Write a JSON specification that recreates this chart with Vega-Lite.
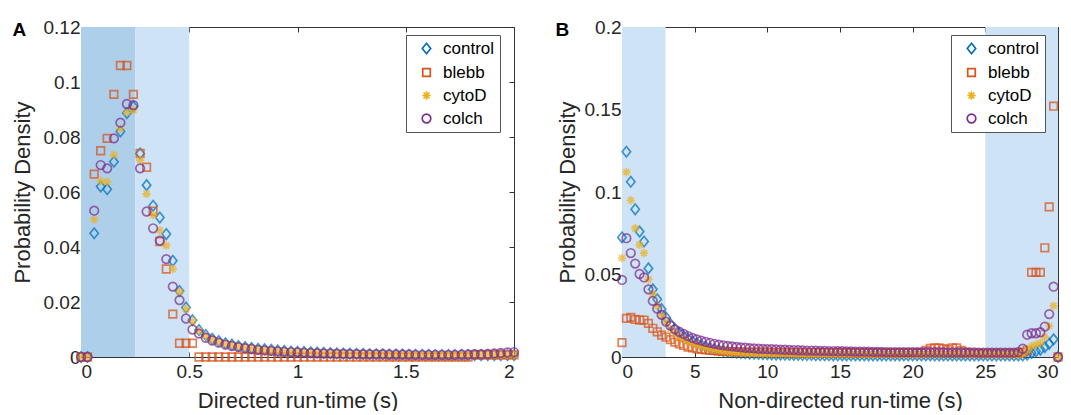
{
"$schema": "https://vega.github.io/schema/vega-lite/v6.json",
"background": "white",
"padding": {"left": 11, "top": 18, "right": 0, "bottom": 0},
"spacing": 33,
"datasets": {
"bandsA": [{"zone": "dark", "x0": 0, "x1": 0.25}, {"zone": "light", "x0": 0.25, "x1": 0.5}],
"bandsB": [{"zone": "light", "x0": 0, "x1": 3}, {"zone": "light", "x0": 25, "x1": 30}],
"A": [
{"s":"control","x":0,"y":0},{"s":"control","x":0.03,"y":0},{"s":"control","x":0.061,"y":0.045},{"s":"control","x":0.091,"y":0.062},{"s":"control","x":0.121,"y":0.061},{"s":"control","x":0.152,"y":0.071},{"s":"control","x":0.182,"y":0.082},{"s":"control","x":0.212,"y":0.0887},{"s":"control","x":0.242,"y":0.091},{"s":"control","x":0.273,"y":0.074},{"s":"control","x":0.303,"y":0.0625},{"s":"control","x":0.333,"y":0.055},{"s":"control","x":0.364,"y":0.0507},{"s":"control","x":0.394,"y":0.0447},{"s":"control","x":0.424,"y":0.035},{"s":"control","x":0.455,"y":0.024},{"s":"control","x":0.485,"y":0.018},{"s":"control","x":0.515,"y":0.0134},{"s":"control","x":0.545,"y":0.0098},{"s":"control","x":0.576,"y":0.008},{"s":"control","x":0.606,"y":0.0066},{"s":"control","x":0.636,"y":0.0058},{"s":"control","x":0.667,"y":0.005},{"s":"control","x":0.697,"y":0.0045},{"s":"control","x":0.727,"y":0.004},{"s":"control","x":0.758,"y":0.0036},{"s":"control","x":0.788,"y":0.0033},{"s":"control","x":0.818,"y":0.003},{"s":"control","x":0.848,"y":0.0028},{"s":"control","x":0.879,"y":0.0026},{"s":"control","x":0.909,"y":0.0024},{"s":"control","x":0.939,"y":0.0022},{"s":"control","x":0.97,"y":0.002},{"s":"control","x":1,"y":0.0019},{"s":"control","x":1.03,"y":0.0018},{"s":"control","x":1.061,"y":0.0017},{"s":"control","x":1.091,"y":0.0016},{"s":"control","x":1.121,"y":0.0015},{"s":"control","x":1.152,"y":0.0014},{"s":"control","x":1.182,"y":0.0013},{"s":"control","x":1.212,"y":0.0012},{"s":"control","x":1.242,"y":0.0012},{"s":"control","x":1.273,"y":0.0011},{"s":"control","x":1.303,"y":0.0011},{"s":"control","x":1.333,"y":0.001},{"s":"control","x":1.364,"y":0.001},{"s":"control","x":1.394,"y":0.001},{"s":"control","x":1.424,"y":0.0009},{"s":"control","x":1.455,"y":0.0009},{"s":"control","x":1.485,"y":0.0009},{"s":"control","x":1.515,"y":0.0008},{"s":"control","x":1.545,"y":0.0008},{"s":"control","x":1.576,"y":0.0008},{"s":"control","x":1.606,"y":0.0008},{"s":"control","x":1.636,"y":0.0007},{"s":"control","x":1.667,"y":0.0007},{"s":"control","x":1.697,"y":0.0007},{"s":"control","x":1.727,"y":0.0007},{"s":"control","x":1.758,"y":0.0007},{"s":"control","x":1.788,"y":0.0007},{"s":"control","x":1.818,"y":0.0007},{"s":"control","x":1.848,"y":0.0007},{"s":"control","x":1.879,"y":0.0007},{"s":"control","x":1.909,"y":0.0007},{"s":"control","x":1.939,"y":0.0007},{"s":"control","x":1.97,"y":0.0007},{"s":"control","x":2,"y":0.0007},
{"s":"blebb","x":0,"y":0},{"s":"blebb","x":0.03,"y":0},{"s":"blebb","x":0.061,"y":0.0665},{"s":"blebb","x":0.091,"y":0.075},{"s":"blebb","x":0.121,"y":0.0795},{"s":"blebb","x":0.152,"y":0.0955},{"s":"blebb","x":0.182,"y":0.106},{"s":"blebb","x":0.212,"y":0.106},{"s":"blebb","x":0.242,"y":0.0955},{"s":"blebb","x":0.273,"y":0.074},{"s":"blebb","x":0.303,"y":0.069},{"s":"blebb","x":0.333,"y":0.053},{"s":"blebb","x":0.364,"y":0.042},{"s":"blebb","x":0.394,"y":0.032},{"s":"blebb","x":0.424,"y":0.0156},{"s":"blebb","x":0.455,"y":0.005},{"s":"blebb","x":0.485,"y":0.005},{"s":"blebb","x":0.515,"y":0.005},{"s":"blebb","x":0.545,"y":0},{"s":"blebb","x":0.576,"y":0},{"s":"blebb","x":0.606,"y":0},{"s":"blebb","x":0.636,"y":0},{"s":"blebb","x":0.667,"y":0},{"s":"blebb","x":0.697,"y":0},{"s":"blebb","x":0.727,"y":0},{"s":"blebb","x":0.758,"y":0},{"s":"blebb","x":0.788,"y":0},{"s":"blebb","x":0.818,"y":0},{"s":"blebb","x":0.848,"y":0},{"s":"blebb","x":0.879,"y":0},{"s":"blebb","x":0.909,"y":0},{"s":"blebb","x":0.939,"y":0},{"s":"blebb","x":0.97,"y":0},{"s":"blebb","x":1,"y":0},{"s":"blebb","x":1.03,"y":0},{"s":"blebb","x":1.061,"y":0},{"s":"blebb","x":1.091,"y":0},{"s":"blebb","x":1.121,"y":0},{"s":"blebb","x":1.152,"y":0},{"s":"blebb","x":1.182,"y":0},{"s":"blebb","x":1.212,"y":0},{"s":"blebb","x":1.242,"y":0},{"s":"blebb","x":1.273,"y":0},{"s":"blebb","x":1.303,"y":0},{"s":"blebb","x":1.333,"y":0},{"s":"blebb","x":1.364,"y":0},{"s":"blebb","x":1.394,"y":0},{"s":"blebb","x":1.424,"y":0},{"s":"blebb","x":1.455,"y":0},{"s":"blebb","x":1.485,"y":0},{"s":"blebb","x":1.515,"y":0},{"s":"blebb","x":1.545,"y":0},{"s":"blebb","x":1.576,"y":0},{"s":"blebb","x":1.606,"y":0},{"s":"blebb","x":1.636,"y":0},{"s":"blebb","x":1.667,"y":0},{"s":"blebb","x":1.697,"y":0},{"s":"blebb","x":1.727,"y":0},{"s":"blebb","x":1.758,"y":0},{"s":"blebb","x":1.788,"y":0},{"s":"blebb","x":1.818,"y":0.0008},{"s":"blebb","x":1.848,"y":0.0008},{"s":"blebb","x":1.879,"y":0.0008},{"s":"blebb","x":1.909,"y":0.0008},{"s":"blebb","x":1.939,"y":0.0008},{"s":"blebb","x":1.97,"y":0.0008},{"s":"blebb","x":2,"y":0.0008},
{"s":"cytoD","x":0,"y":0},{"s":"cytoD","x":0.03,"y":0},{"s":"cytoD","x":0.061,"y":0.05},{"s":"cytoD","x":0.091,"y":0.064},{"s":"cytoD","x":0.121,"y":0.0637},{"s":"cytoD","x":0.152,"y":0.0735},{"s":"cytoD","x":0.182,"y":0.083},{"s":"cytoD","x":0.212,"y":0.089},{"s":"cytoD","x":0.242,"y":0.0898},{"s":"cytoD","x":0.273,"y":0.0716},{"s":"cytoD","x":0.303,"y":0.0593},{"s":"cytoD","x":0.333,"y":0.0516},{"s":"cytoD","x":0.364,"y":0.046},{"s":"cytoD","x":0.394,"y":0.0405},{"s":"cytoD","x":0.424,"y":0.032},{"s":"cytoD","x":0.455,"y":0.0237},{"s":"cytoD","x":0.485,"y":0.0175},{"s":"cytoD","x":0.515,"y":0.013},{"s":"cytoD","x":0.545,"y":0.0095},{"s":"cytoD","x":0.576,"y":0.0077},{"s":"cytoD","x":0.606,"y":0.0063},{"s":"cytoD","x":0.636,"y":0.0055},{"s":"cytoD","x":0.667,"y":0.0048},{"s":"cytoD","x":0.697,"y":0.0043},{"s":"cytoD","x":0.727,"y":0.0038},{"s":"cytoD","x":0.758,"y":0.0034},{"s":"cytoD","x":0.788,"y":0.0031},{"s":"cytoD","x":0.818,"y":0.0028},{"s":"cytoD","x":0.848,"y":0.0026},{"s":"cytoD","x":0.879,"y":0.0024},{"s":"cytoD","x":0.909,"y":0.0022},{"s":"cytoD","x":0.939,"y":0.002},{"s":"cytoD","x":0.97,"y":0.0019},{"s":"cytoD","x":1,"y":0.0018},{"s":"cytoD","x":1.03,"y":0.0017},{"s":"cytoD","x":1.061,"y":0.0016},{"s":"cytoD","x":1.091,"y":0.0015},{"s":"cytoD","x":1.121,"y":0.0014},{"s":"cytoD","x":1.152,"y":0.0013},{"s":"cytoD","x":1.182,"y":0.0012},{"s":"cytoD","x":1.212,"y":0.0012},{"s":"cytoD","x":1.242,"y":0.0011},{"s":"cytoD","x":1.273,"y":0.0011},{"s":"cytoD","x":1.303,"y":0.001},{"s":"cytoD","x":1.333,"y":0.001},{"s":"cytoD","x":1.364,"y":0.001},{"s":"cytoD","x":1.394,"y":0.0009},{"s":"cytoD","x":1.424,"y":0.0009},{"s":"cytoD","x":1.455,"y":0.0009},{"s":"cytoD","x":1.485,"y":0.0008},{"s":"cytoD","x":1.515,"y":0.0008},{"s":"cytoD","x":1.545,"y":0.0008},{"s":"cytoD","x":1.576,"y":0.0008},{"s":"cytoD","x":1.606,"y":0.0008},{"s":"cytoD","x":1.636,"y":0.0008},{"s":"cytoD","x":1.667,"y":0.0008},{"s":"cytoD","x":1.697,"y":0.0008},{"s":"cytoD","x":1.727,"y":0.0008},{"s":"cytoD","x":1.758,"y":0.0008},{"s":"cytoD","x":1.788,"y":0.0008},{"s":"cytoD","x":1.818,"y":0.0008},{"s":"cytoD","x":1.848,"y":0.0008},{"s":"cytoD","x":1.879,"y":0.0008},{"s":"cytoD","x":1.909,"y":0.0008},{"s":"cytoD","x":1.939,"y":0.0008},{"s":"cytoD","x":1.97,"y":0.0008},{"s":"cytoD","x":2,"y":0.0008},
{"s":"colch","x":0,"y":0},{"s":"colch","x":0.03,"y":0},{"s":"colch","x":0.061,"y":0.0532},{"s":"colch","x":0.091,"y":0.0698},{"s":"colch","x":0.121,"y":0.0686},{"s":"colch","x":0.152,"y":0.0795},{"s":"colch","x":0.182,"y":0.0852},{"s":"colch","x":0.212,"y":0.092},{"s":"colch","x":0.242,"y":0.0916},{"s":"colch","x":0.273,"y":0.0686},{"s":"colch","x":0.303,"y":0.0529},{"s":"colch","x":0.333,"y":0.0468},{"s":"colch","x":0.364,"y":0.0423},{"s":"colch","x":0.394,"y":0.0356},{"s":"colch","x":0.424,"y":0.0256},{"s":"colch","x":0.455,"y":0.0207},{"s":"colch","x":0.485,"y":0.014},{"s":"colch","x":0.515,"y":0.01},{"s":"colch","x":0.545,"y":0.0085},{"s":"colch","x":0.576,"y":0.007},{"s":"colch","x":0.606,"y":0.006},{"s":"colch","x":0.636,"y":0.0052},{"s":"colch","x":0.667,"y":0.0045},{"s":"colch","x":0.697,"y":0.004},{"s":"colch","x":0.727,"y":0.0036},{"s":"colch","x":0.758,"y":0.0032},{"s":"colch","x":0.788,"y":0.0029},{"s":"colch","x":0.818,"y":0.0026},{"s":"colch","x":0.848,"y":0.0024},{"s":"colch","x":0.879,"y":0.0022},{"s":"colch","x":0.909,"y":0.002},{"s":"colch","x":0.939,"y":0.0019},{"s":"colch","x":0.97,"y":0.0018},{"s":"colch","x":1,"y":0.0017},{"s":"colch","x":1.03,"y":0.0016},{"s":"colch","x":1.061,"y":0.0015},{"s":"colch","x":1.091,"y":0.0014},{"s":"colch","x":1.121,"y":0.0013},{"s":"colch","x":1.152,"y":0.0013},{"s":"colch","x":1.182,"y":0.0012},{"s":"colch","x":1.212,"y":0.0012},{"s":"colch","x":1.242,"y":0.0011},{"s":"colch","x":1.273,"y":0.0011},{"s":"colch","x":1.303,"y":0.001},{"s":"colch","x":1.333,"y":0.001},{"s":"colch","x":1.364,"y":0.001},{"s":"colch","x":1.394,"y":0.001},{"s":"colch","x":1.424,"y":0.0009},{"s":"colch","x":1.455,"y":0.0009},{"s":"colch","x":1.485,"y":0.0009},{"s":"colch","x":1.515,"y":0.0009},{"s":"colch","x":1.545,"y":0.0008},{"s":"colch","x":1.576,"y":0.0008},{"s":"colch","x":1.606,"y":0.0008},{"s":"colch","x":1.636,"y":0.0008},{"s":"colch","x":1.667,"y":0.0008},{"s":"colch","x":1.697,"y":0.0008},{"s":"colch","x":1.727,"y":0.0008},{"s":"colch","x":1.758,"y":0.0009},{"s":"colch","x":1.788,"y":0.0009},{"s":"colch","x":1.818,"y":0.001},{"s":"colch","x":1.848,"y":0.001},{"s":"colch","x":1.879,"y":0.0011},{"s":"colch","x":1.909,"y":0.0013},{"s":"colch","x":1.939,"y":0.0015},{"s":"colch","x":1.97,"y":0.0017},{"s":"colch","x":2,"y":0.0018}
],
"B": [
{"s":"control","x":0,"y":0.0725},{"s":"control","x":0.303,"y":0.1244},{"s":"control","x":0.606,"y":0.1062},{"s":"control","x":0.909,"y":0.0895},{"s":"control","x":1.212,"y":0.076},{"s":"control","x":1.515,"y":0.07},{"s":"control","x":1.818,"y":0.0537},{"s":"control","x":2.121,"y":0.041},{"s":"control","x":2.424,"y":0.035},{"s":"control","x":2.727,"y":0.029},{"s":"control","x":3.03,"y":0.024},{"s":"control","x":3.333,"y":0.02},{"s":"control","x":3.636,"y":0.017},{"s":"control","x":3.939,"y":0.0145},{"s":"control","x":4.242,"y":0.0125},{"s":"control","x":4.545,"y":0.011},{"s":"control","x":4.848,"y":0.0095},{"s":"control","x":5.152,"y":0.0083},{"s":"control","x":5.455,"y":0.0072},{"s":"control","x":5.758,"y":0.0063},{"s":"control","x":6.061,"y":0.0055},{"s":"control","x":6.364,"y":0.0048},{"s":"control","x":6.667,"y":0.0042},{"s":"control","x":6.97,"y":0.0037},{"s":"control","x":7.273,"y":0.0033},{"s":"control","x":7.576,"y":0.003},{"s":"control","x":7.879,"y":0.0027},{"s":"control","x":8.182,"y":0.0025},{"s":"control","x":8.485,"y":0.0023},{"s":"control","x":8.788,"y":0.0021},{"s":"control","x":9.091,"y":0.002},{"s":"control","x":9.394,"y":0.0019},{"s":"control","x":9.697,"y":0.0018},{"s":"control","x":10,"y":0.0017},{"s":"control","x":10.303,"y":0.0016},{"s":"control","x":10.606,"y":0.0015},{"s":"control","x":10.909,"y":0.0015},{"s":"control","x":11.212,"y":0.0014},{"s":"control","x":11.515,"y":0.0014},{"s":"control","x":11.818,"y":0.0013},{"s":"control","x":12.121,"y":0.0013},{"s":"control","x":12.424,"y":0.0012},{"s":"control","x":12.727,"y":0.0012},{"s":"control","x":13.03,"y":0.0012},{"s":"control","x":13.333,"y":0.0011},{"s":"control","x":13.636,"y":0.0011},{"s":"control","x":13.939,"y":0.0011},{"s":"control","x":14.242,"y":0.0011},{"s":"control","x":14.545,"y":0.001},{"s":"control","x":14.848,"y":0.001},{"s":"control","x":15.152,"y":0.001},{"s":"control","x":15.455,"y":0.001},{"s":"control","x":15.758,"y":0.001},{"s":"control","x":16.061,"y":0.001},{"s":"control","x":16.364,"y":0.001},{"s":"control","x":16.667,"y":0.001},{"s":"control","x":16.97,"y":0.001},{"s":"control","x":17.273,"y":0.001},{"s":"control","x":17.576,"y":0.001},{"s":"control","x":17.879,"y":0.001},{"s":"control","x":18.182,"y":0.001},{"s":"control","x":18.485,"y":0.001},{"s":"control","x":18.788,"y":0.001},{"s":"control","x":19.091,"y":0.001},{"s":"control","x":19.394,"y":0.001},{"s":"control","x":19.697,"y":0.001},{"s":"control","x":20,"y":0.001},{"s":"control","x":20.303,"y":0.001},{"s":"control","x":20.606,"y":0.001},{"s":"control","x":20.909,"y":0.001},{"s":"control","x":21.212,"y":0.001},{"s":"control","x":21.515,"y":0.0009},{"s":"control","x":21.818,"y":0.0009},{"s":"control","x":22.121,"y":0.0009},{"s":"control","x":22.424,"y":0.0009},{"s":"control","x":22.727,"y":0.0009},{"s":"control","x":23.03,"y":0.0009},{"s":"control","x":23.333,"y":0.0009},{"s":"control","x":23.636,"y":0.0009},{"s":"control","x":23.939,"y":0.0009},{"s":"control","x":24.242,"y":0.0009},{"s":"control","x":24.545,"y":0.0009},{"s":"control","x":24.848,"y":0.0009},{"s":"control","x":25.152,"y":0.0009},{"s":"control","x":25.455,"y":0.0009},{"s":"control","x":25.758,"y":0.0009},{"s":"control","x":26.061,"y":0.0009},{"s":"control","x":26.364,"y":0.0009},{"s":"control","x":26.667,"y":0.0009},{"s":"control","x":26.97,"y":0.0009},{"s":"control","x":27.273,"y":0.0009},{"s":"control","x":27.576,"y":0.001},{"s":"control","x":27.879,"y":0.0015},{"s":"control","x":28.182,"y":0.0025},{"s":"control","x":28.485,"y":0.0035},{"s":"control","x":28.788,"y":0.0045},{"s":"control","x":29.091,"y":0.006},{"s":"control","x":29.394,"y":0.008},{"s":"control","x":29.697,"y":0.0107},{"s":"control","x":30,"y":0},
{"s":"blebb","x":0,"y":0.0087},{"s":"blebb","x":0.303,"y":0.0234},{"s":"blebb","x":0.606,"y":0.024},{"s":"blebb","x":0.909,"y":0.0228},{"s":"blebb","x":1.212,"y":0.0224},{"s":"blebb","x":1.515,"y":0.0224},{"s":"blebb","x":1.818,"y":0.0204},{"s":"blebb","x":2.121,"y":0.0174},{"s":"blebb","x":2.424,"y":0.0153},{"s":"blebb","x":2.727,"y":0.0133},{"s":"blebb","x":3.03,"y":0.012},{"s":"blebb","x":3.333,"y":0.0105},{"s":"blebb","x":3.636,"y":0.009},{"s":"blebb","x":3.939,"y":0.0079},{"s":"blebb","x":4.242,"y":0.007},{"s":"blebb","x":4.545,"y":0.006},{"s":"blebb","x":4.848,"y":0.0055},{"s":"blebb","x":5.152,"y":0.005},{"s":"blebb","x":5.455,"y":0.0046},{"s":"blebb","x":5.758,"y":0.0043},{"s":"blebb","x":6.061,"y":0.004},{"s":"blebb","x":6.364,"y":0.0038},{"s":"blebb","x":6.667,"y":0.0036},{"s":"blebb","x":6.97,"y":0.0034},{"s":"blebb","x":7.273,"y":0.0033},{"s":"blebb","x":7.576,"y":0.0032},{"s":"blebb","x":7.879,"y":0.0031},{"s":"blebb","x":8.182,"y":0.0031},{"s":"blebb","x":8.485,"y":0.003},{"s":"blebb","x":8.788,"y":0.003},{"s":"blebb","x":9.091,"y":0.003},{"s":"blebb","x":9.394,"y":0.0029},{"s":"blebb","x":9.697,"y":0.0029},{"s":"blebb","x":10,"y":0.0029},{"s":"blebb","x":10.303,"y":0.0028},{"s":"blebb","x":10.606,"y":0.0028},{"s":"blebb","x":10.909,"y":0.0028},{"s":"blebb","x":11.212,"y":0.0028},{"s":"blebb","x":11.515,"y":0.0028},{"s":"blebb","x":11.818,"y":0.0027},{"s":"blebb","x":12.121,"y":0.0027},{"s":"blebb","x":12.424,"y":0.0027},{"s":"blebb","x":12.727,"y":0.0027},{"s":"blebb","x":13.03,"y":0.0027},{"s":"blebb","x":13.333,"y":0.0027},{"s":"blebb","x":13.636,"y":0.0026},{"s":"blebb","x":13.939,"y":0.0026},{"s":"blebb","x":14.242,"y":0.0026},{"s":"blebb","x":14.545,"y":0.0026},{"s":"blebb","x":14.848,"y":0.0026},{"s":"blebb","x":15.152,"y":0.0026},{"s":"blebb","x":15.455,"y":0.0026},{"s":"blebb","x":15.758,"y":0.0026},{"s":"blebb","x":16.061,"y":0.0026},{"s":"blebb","x":16.364,"y":0.0025},{"s":"blebb","x":16.667,"y":0.0025},{"s":"blebb","x":16.97,"y":0.0025},{"s":"blebb","x":17.273,"y":0.0025},{"s":"blebb","x":17.576,"y":0.0025},{"s":"blebb","x":17.879,"y":0.0025},{"s":"blebb","x":18.182,"y":0.0025},{"s":"blebb","x":18.485,"y":0.0025},{"s":"blebb","x":18.788,"y":0.0025},{"s":"blebb","x":19.091,"y":0.0025},{"s":"blebb","x":19.394,"y":0.0025},{"s":"blebb","x":19.697,"y":0.0025},{"s":"blebb","x":20,"y":0.0025},{"s":"blebb","x":20.303,"y":0.0025},{"s":"blebb","x":20.606,"y":0.0025},{"s":"blebb","x":20.909,"y":0.004},{"s":"blebb","x":21.212,"y":0.0052},{"s":"blebb","x":21.515,"y":0.0055},{"s":"blebb","x":21.818,"y":0.0055},{"s":"blebb","x":22.121,"y":0.005},{"s":"blebb","x":22.424,"y":0.0045},{"s":"blebb","x":22.727,"y":0.0055},{"s":"blebb","x":23.03,"y":0.0055},{"s":"blebb","x":23.333,"y":0.004},{"s":"blebb","x":23.636,"y":0.003},{"s":"blebb","x":23.939,"y":0.0022},{"s":"blebb","x":24.242,"y":0.0022},{"s":"blebb","x":24.545,"y":0.0022},{"s":"blebb","x":24.848,"y":0.0022},{"s":"blebb","x":25.152,"y":0.0022},{"s":"blebb","x":25.455,"y":0.0022},{"s":"blebb","x":25.758,"y":0.0022},{"s":"blebb","x":26.061,"y":0.0022},{"s":"blebb","x":26.364,"y":0.0022},{"s":"blebb","x":26.667,"y":0.0022},{"s":"blebb","x":26.97,"y":0.0022},{"s":"blebb","x":27.273,"y":0.0022},{"s":"blebb","x":27.576,"y":0.003},{"s":"blebb","x":27.879,"y":0.004},{"s":"blebb","x":28.182,"y":0.0513},{"s":"blebb","x":28.485,"y":0.0513},{"s":"blebb","x":28.788,"y":0.0513},{"s":"blebb","x":29.091,"y":0.0662},{"s":"blebb","x":29.394,"y":0.091},{"s":"blebb","x":29.697,"y":0.152},{"s":"blebb","x":30,"y":0},
{"s":"cytoD","x":0,"y":0.06},{"s":"cytoD","x":0.303,"y":0.112},{"s":"cytoD","x":0.606,"y":0.095},{"s":"cytoD","x":0.909,"y":0.078},{"s":"cytoD","x":1.212,"y":0.068},{"s":"cytoD","x":1.515,"y":0.063},{"s":"cytoD","x":1.818,"y":0.047},{"s":"cytoD","x":2.121,"y":0.038},{"s":"cytoD","x":2.424,"y":0.031},{"s":"cytoD","x":2.727,"y":0.025},{"s":"cytoD","x":3.03,"y":0.021},{"s":"cytoD","x":3.333,"y":0.017},{"s":"cytoD","x":3.636,"y":0.0145},{"s":"cytoD","x":3.939,"y":0.0125},{"s":"cytoD","x":4.242,"y":0.011},{"s":"cytoD","x":4.545,"y":0.0095},{"s":"cytoD","x":4.848,"y":0.0083},{"s":"cytoD","x":5.152,"y":0.0073},{"s":"cytoD","x":5.455,"y":0.0064},{"s":"cytoD","x":5.758,"y":0.0056},{"s":"cytoD","x":6.061,"y":0.005},{"s":"cytoD","x":6.364,"y":0.0045},{"s":"cytoD","x":6.667,"y":0.004},{"s":"cytoD","x":6.97,"y":0.0036},{"s":"cytoD","x":7.273,"y":0.0033},{"s":"cytoD","x":7.576,"y":0.003},{"s":"cytoD","x":7.879,"y":0.0028},{"s":"cytoD","x":8.182,"y":0.0026},{"s":"cytoD","x":8.485,"y":0.0024},{"s":"cytoD","x":8.788,"y":0.0023},{"s":"cytoD","x":9.091,"y":0.0022},{"s":"cytoD","x":9.394,"y":0.0021},{"s":"cytoD","x":9.697,"y":0.002},{"s":"cytoD","x":10,"y":0.002},{"s":"cytoD","x":10.303,"y":0.0019},{"s":"cytoD","x":10.606,"y":0.0019},{"s":"cytoD","x":10.909,"y":0.0018},{"s":"cytoD","x":11.212,"y":0.0018},{"s":"cytoD","x":11.515,"y":0.0017},{"s":"cytoD","x":11.818,"y":0.0017},{"s":"cytoD","x":12.121,"y":0.0017},{"s":"cytoD","x":12.424,"y":0.0016},{"s":"cytoD","x":12.727,"y":0.0016},{"s":"cytoD","x":13.03,"y":0.0016},{"s":"cytoD","x":13.333,"y":0.0016},{"s":"cytoD","x":13.636,"y":0.0016},{"s":"cytoD","x":13.939,"y":0.0016},{"s":"cytoD","x":14.242,"y":0.0016},{"s":"cytoD","x":14.545,"y":0.0016},{"s":"cytoD","x":14.848,"y":0.0016},{"s":"cytoD","x":15.152,"y":0.0016},{"s":"cytoD","x":15.455,"y":0.0015},{"s":"cytoD","x":15.758,"y":0.0015},{"s":"cytoD","x":16.061,"y":0.0015},{"s":"cytoD","x":16.364,"y":0.0015},{"s":"cytoD","x":16.667,"y":0.0015},{"s":"cytoD","x":16.97,"y":0.0015},{"s":"cytoD","x":17.273,"y":0.0015},{"s":"cytoD","x":17.576,"y":0.0015},{"s":"cytoD","x":17.879,"y":0.0015},{"s":"cytoD","x":18.182,"y":0.0015},{"s":"cytoD","x":18.485,"y":0.0014},{"s":"cytoD","x":18.788,"y":0.0014},{"s":"cytoD","x":19.091,"y":0.0014},{"s":"cytoD","x":19.394,"y":0.0014},{"s":"cytoD","x":19.697,"y":0.0014},{"s":"cytoD","x":20,"y":0.0014},{"s":"cytoD","x":20.303,"y":0.0014},{"s":"cytoD","x":20.606,"y":0.0014},{"s":"cytoD","x":20.909,"y":0.0014},{"s":"cytoD","x":21.212,"y":0.0014},{"s":"cytoD","x":21.515,"y":0.0014},{"s":"cytoD","x":21.818,"y":0.0014},{"s":"cytoD","x":22.121,"y":0.0014},{"s":"cytoD","x":22.424,"y":0.0014},{"s":"cytoD","x":22.727,"y":0.0014},{"s":"cytoD","x":23.03,"y":0.0014},{"s":"cytoD","x":23.333,"y":0.0014},{"s":"cytoD","x":23.636,"y":0.0014},{"s":"cytoD","x":23.939,"y":0.0014},{"s":"cytoD","x":24.242,"y":0.0014},{"s":"cytoD","x":24.545,"y":0.0014},{"s":"cytoD","x":24.848,"y":0.0014},{"s":"cytoD","x":25.152,"y":0.0013},{"s":"cytoD","x":25.455,"y":0.0013},{"s":"cytoD","x":25.758,"y":0.0013},{"s":"cytoD","x":26.061,"y":0.0013},{"s":"cytoD","x":26.364,"y":0.0013},{"s":"cytoD","x":26.667,"y":0.0013},{"s":"cytoD","x":26.97,"y":0.0013},{"s":"cytoD","x":27.273,"y":0.0013},{"s":"cytoD","x":27.576,"y":0.002},{"s":"cytoD","x":27.879,"y":0.0045},{"s":"cytoD","x":28.182,"y":0.0065},{"s":"cytoD","x":28.485,"y":0.0075},{"s":"cytoD","x":28.788,"y":0.0085},{"s":"cytoD","x":29.091,"y":0.012},{"s":"cytoD","x":29.394,"y":0.0188},{"s":"cytoD","x":29.697,"y":0.031},{"s":"cytoD","x":30,"y":0},
{"s":"colch","x":0,"y":0.0467},{"s":"colch","x":0.303,"y":0.072},{"s":"colch","x":0.606,"y":0.063},{"s":"colch","x":0.909,"y":0.0566},{"s":"colch","x":1.212,"y":0.0503},{"s":"colch","x":1.515,"y":0.0482},{"s":"colch","x":1.818,"y":0.041},{"s":"colch","x":2.121,"y":0.034},{"s":"colch","x":2.424,"y":0.0293},{"s":"colch","x":2.727,"y":0.0255},{"s":"colch","x":3.03,"y":0.0214},{"s":"colch","x":3.333,"y":0.019},{"s":"colch","x":3.636,"y":0.0168},{"s":"colch","x":3.939,"y":0.0153},{"s":"colch","x":4.242,"y":0.014},{"s":"colch","x":4.545,"y":0.0127},{"s":"colch","x":4.848,"y":0.0116},{"s":"colch","x":5.152,"y":0.0107},{"s":"colch","x":5.455,"y":0.0099},{"s":"colch","x":5.758,"y":0.0092},{"s":"colch","x":6.061,"y":0.0086},{"s":"colch","x":6.364,"y":0.008},{"s":"colch","x":6.667,"y":0.0075},{"s":"colch","x":6.97,"y":0.0071},{"s":"colch","x":7.273,"y":0.0067},{"s":"colch","x":7.576,"y":0.0064},{"s":"colch","x":7.879,"y":0.0061},{"s":"colch","x":8.182,"y":0.0058},{"s":"colch","x":8.485,"y":0.0056},{"s":"colch","x":8.788,"y":0.0054},{"s":"colch","x":9.091,"y":0.0052},{"s":"colch","x":9.394,"y":0.005},{"s":"colch","x":9.697,"y":0.0049},{"s":"colch","x":10,"y":0.0048},{"s":"colch","x":10.303,"y":0.0047},{"s":"colch","x":10.606,"y":0.0046},{"s":"colch","x":10.909,"y":0.0045},{"s":"colch","x":11.212,"y":0.0044},{"s":"colch","x":11.515,"y":0.0043},{"s":"colch","x":11.818,"y":0.0042},{"s":"colch","x":12.121,"y":0.0041},{"s":"colch","x":12.424,"y":0.004},{"s":"colch","x":12.727,"y":0.0039},{"s":"colch","x":13.03,"y":0.0039},{"s":"colch","x":13.333,"y":0.0038},{"s":"colch","x":13.636,"y":0.0037},{"s":"colch","x":13.939,"y":0.0037},{"s":"colch","x":14.242,"y":0.0036},{"s":"colch","x":14.545,"y":0.0036},{"s":"colch","x":14.848,"y":0.0035},{"s":"colch","x":15.152,"y":0.0035},{"s":"colch","x":15.455,"y":0.0034},{"s":"colch","x":15.758,"y":0.0034},{"s":"colch","x":16.061,"y":0.0033},{"s":"colch","x":16.364,"y":0.0033},{"s":"colch","x":16.667,"y":0.0032},{"s":"colch","x":16.97,"y":0.0032},{"s":"colch","x":17.273,"y":0.0031},{"s":"colch","x":17.576,"y":0.0031},{"s":"colch","x":17.879,"y":0.0031},{"s":"colch","x":18.182,"y":0.003},{"s":"colch","x":18.485,"y":0.003},{"s":"colch","x":18.788,"y":0.003},{"s":"colch","x":19.091,"y":0.003},{"s":"colch","x":19.394,"y":0.003},{"s":"colch","x":19.697,"y":0.003},{"s":"colch","x":20,"y":0.003},{"s":"colch","x":20.303,"y":0.0029},{"s":"colch","x":20.606,"y":0.0029},{"s":"colch","x":20.909,"y":0.0029},{"s":"colch","x":21.212,"y":0.0029},{"s":"colch","x":21.515,"y":0.0029},{"s":"colch","x":21.818,"y":0.0029},{"s":"colch","x":22.121,"y":0.0029},{"s":"colch","x":22.424,"y":0.0028},{"s":"colch","x":22.727,"y":0.0028},{"s":"colch","x":23.03,"y":0.0028},{"s":"colch","x":23.333,"y":0.0028},{"s":"colch","x":23.636,"y":0.0028},{"s":"colch","x":23.939,"y":0.0028},{"s":"colch","x":24.242,"y":0.0028},{"s":"colch","x":24.545,"y":0.0027},{"s":"colch","x":24.848,"y":0.0027},{"s":"colch","x":25.152,"y":0.0027},{"s":"colch","x":25.455,"y":0.0027},{"s":"colch","x":25.758,"y":0.0027},{"s":"colch","x":26.061,"y":0.0027},{"s":"colch","x":26.364,"y":0.0027},{"s":"colch","x":26.667,"y":0.0027},{"s":"colch","x":26.97,"y":0.0027},{"s":"colch","x":27.273,"y":0.003},{"s":"colch","x":27.576,"y":0.005},{"s":"colch","x":27.879,"y":0.0135},{"s":"colch","x":28.182,"y":0.0144},{"s":"colch","x":28.485,"y":0.0144},{"s":"colch","x":28.788,"y":0.015},{"s":"colch","x":29.091,"y":0.0184},{"s":"colch","x":29.394,"y":0.026},{"s":"colch","x":29.697,"y":0.0426},{"s":"colch","x":30,"y":0}
]
},
"hconcat": [
{
"width": 433, "height": 330,
"layer": [
{
"data": {"name": "bandsA"},
"mark": {"type": "rect", "strokeWidth": 0},
"encoding": {
"x": {"field": "x0", "type": "quantitative", "scale": {"domain": [0, 2], "nice": false, "zero": false},
"axis": {"orient": "top", "values": [0, 0.5, 1, 1.5, 2], "labels": false, "tickSize": -5, "title": "A", "titleX": -69, "titleY": 8, "titleAngle": 0, "titleAlign": "left", "titleBaseline": "alphabetic", "titleFontWeight": "bold", "titleFontSize": 19, "titleColor": "#000000"}},
"x2": {"field": "x1"},
"y": {"datum": 0, "type": "quantitative", "scale": {"domain": [0, 0.12], "nice": false}, "axis": {"orient": "right", "values": [0, 0.02, 0.04, 0.06, 0.08, 0.1, 0.12], "labels": false, "tickSize": -5, "title": null}},
"y2": {"datum": 0.12},
"fill": {"field": "zone", "type": "nominal", "scale": {"domain": ["dark", "light"], "range": ["#aecfea", "#cfe3f6"]}, "legend": null}
}
},
{
"data": {"name": "A"},
"mark": {"type": "point", "filled": false, "size": 110, "strokeWidth": 1.7, "opacity": 0.72},
"encoding": {
"x": {"field": "x", "type": "quantitative", "axis": {"orient": "bottom", "values": [0, 0.5, 1, 1.5, 2], "format": ".2~f", "tickSize": -5, "labelPadding": 10, "titlePadding": 9, "title": "Directed run-time (s)"}},
"y": {"field": "y", "type": "quantitative", "axis": {"orient": "left", "values": [0, 0.02, 0.04, 0.06, 0.08, 0.1, 0.12], "format": ".2~f", "tickSize": -5, "labelPadding": 6, "titlePadding": 9, "title": "Probability Density"}},
"color": {"field": "s", "type": "nominal", "scale": {"domain": ["control", "blebb", "cytoD", "colch"], "range": ["#0072BD", "#D95319", "#EDB120", "#7E2F8E"]},
"legend": {"orient": "none", "legendX": 325, "legendY": 8, "title": null, "fillColor": "#ffffff", "strokeColor": "#555555", "padding": 5, "symbolOffset": 7, "labelOffset": 8, "rowPadding": 5, "labelFontSize": 17, "symbolSize": 110, "symbolStrokeWidth": 1.7, "symbolOpacity": 1, "labelColor": "#000000"}},
"shape": {"field": "s", "type": "nominal", "scale": {"domain": ["control", "blebb", "cytoD", "colch"], "range": ["M0,-1L0.8,0L0,1L-0.8,0Z", "M-0.72,-0.72L0.72,-0.72L0.72,0.72L-0.72,0.72Z", "M-0.8,0L0.8,0M0,-0.8L0,0.8M-0.57,-0.57L0.57,0.57M-0.57,0.57L0.57,-0.57", "M0.82,0A0.82,0.82,0,1,1,-0.82,0A0.82,0.82,0,1,1,0.82,0Z"]}}
}
}
],
"resolve": {"axis": {"x": "independent", "y": "independent"}}
},
{
"width": 436, "height": 330,
"layer": [
{
"data": {"name": "bandsB"},
"mark": {"type": "rect", "strokeWidth": 0},
"encoding": {
"x": {"field": "x0", "type": "quantitative", "scale": {"domain": [0, 30], "nice": false, "zero": false},
"axis": {"orient": "top", "values": [0, 5, 10, 15, 20, 25, 30], "labels": false, "tickSize": -5, "title": "B", "titleX": -67, "titleY": 8, "titleAngle": 0, "titleAlign": "left", "titleBaseline": "alphabetic", "titleFontWeight": "bold", "titleFontSize": 19, "titleColor": "#000000"}},
"x2": {"field": "x1"},
"y": {"datum": 0, "type": "quantitative", "scale": {"domain": [0, 0.2], "nice": false}, "axis": {"orient": "right", "values": [0, 0.05, 0.1, 0.15, 0.2], "labels": false, "tickSize": -5, "title": null}},
"y2": {"datum": 0.2},
"fill": {"field": "zone", "type": "nominal", "scale": {"domain": ["light"], "range": ["#cfe3f6"]}, "legend": null}
}
},
{
"data": {"name": "B"},
"mark": {"type": "point", "filled": false, "size": 110, "strokeWidth": 1.7, "opacity": 0.72},
"encoding": {
"x": {"field": "x", "type": "quantitative", "axis": {"orient": "bottom", "values": [0, 5, 10, 15, 20, 25, 30], "format": ".2~f", "tickSize": -5, "labelPadding": 10, "titlePadding": 9, "title": "Non-directed run-time (s)"}},
"y": {"field": "y", "type": "quantitative", "axis": {"orient": "left", "values": [0, 0.05, 0.1, 0.15, 0.2], "format": ".2~f", "tickSize": -5, "labelPadding": 6, "titlePadding": 5, "title": "Probability Density"}},
"color": {"field": "s", "type": "nominal", "scale": {"domain": ["control", "blebb", "cytoD", "colch"], "range": ["#0072BD", "#D95319", "#EDB120", "#7E2F8E"]},
"legend": {"orient": "none", "legendX": 329, "legendY": 8, "title": null, "fillColor": "#ffffff", "strokeColor": "#555555", "padding": 5, "symbolOffset": 7, "labelOffset": 8, "rowPadding": 5, "labelFontSize": 17, "symbolSize": 110, "symbolStrokeWidth": 1.7, "symbolOpacity": 1, "labelColor": "#000000"}},
"shape": {"field": "s", "type": "nominal", "scale": {"domain": ["control", "blebb", "cytoD", "colch"], "range": ["M0,-1L0.8,0L0,1L-0.8,0Z", "M-0.72,-0.72L0.72,-0.72L0.72,0.72L-0.72,0.72Z", "M-0.8,0L0.8,0M0,-0.8L0,0.8M-0.57,-0.57L0.57,0.57M-0.57,0.57L0.57,-0.57", "M0.82,0A0.82,0.82,0,1,1,-0.82,0A0.82,0.82,0,1,1,0.82,0Z"]}}
}
}
],
"resolve": {"axis": {"x": "independent", "y": "independent"}}
}
],
"resolve": {"scale": {"x": "independent", "y": "independent", "color": "independent", "shape": "independent", "fill": "independent"}, "legend": {"color": "independent", "shape": "independent"}},
"config": {
"font": "Liberation Sans",
"view": {"stroke": null},
"axis": {"grid": false, "domainColor": "#333333", "domainWidth": 1, "tickColor": "#333333", "tickWidth": 1, "labelColor": "#262626", "titleColor": "#262626", "labelFontSize": 19, "titleFontSize": 22, "titleFontWeight": "normal", "labelFont": "Liberation Sans", "titleFont": "Liberation Sans"},
"legend": {"labelFont": "Liberation Sans"}
}
}
